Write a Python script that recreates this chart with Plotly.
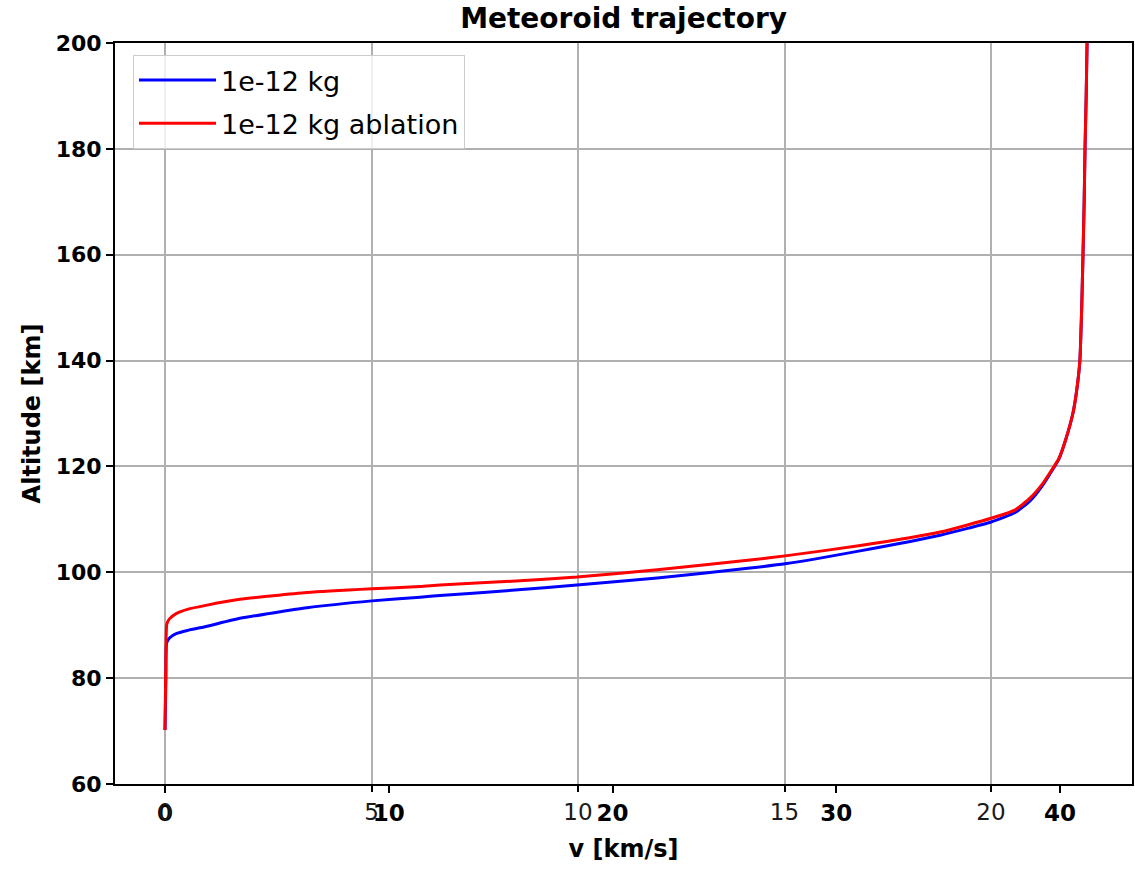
import plotly.graph_objects as go

# Data (velocity in km/s, altitude in km)
v_blue = [0.0, 0.02, 0.04, 0.07, 0.2, 0.5, 1.0, 1.88, 3.35, 6.35, 9.25, 11.4, 12.29, 15.5, 18.41, 22.0,
          26.15, 27.71, 31.0, 34.64, 36.92, 38.0, 38.66, 39.2, 39.55, 39.95, 40.25, 40.58, 40.75,
          40.89, 40.97, 41.03, 41.08, 41.12, 41.17, 41.21]
h_blue = [70.2, 75.0, 80.0, 86.6, 87.6, 88.4, 89.0, 89.8, 91.3, 93.3, 94.6, 95.3, 95.6, 96.6, 97.6, 98.9,
          100.8, 101.6, 104.0, 107.0, 109.5, 111.3, 113.5, 116.3, 118.6, 121.4, 125.0, 130.1, 134.5,
          140.1, 150.0, 160.3, 170.0, 180.4, 190.0, 200.0]

v_red = [0.0, 0.02, 0.04, 0.08, 0.2, 0.5, 1.0, 1.88, 3.35, 6.35, 9.25, 11.4, 12.29, 15.5, 18.41, 22.0,
         26.15, 27.71, 31.0, 34.64, 36.92, 38.0, 38.66, 39.2, 39.55, 39.95, 40.25, 40.58, 40.75,
         40.89, 40.97, 41.03, 41.08, 41.12, 41.17, 41.21]
h_red = [70.2, 77.0, 84.0, 90.2, 91.2, 92.2, 93.0, 93.8, 94.9, 96.2, 96.9, 97.3, 97.6, 98.3, 99.1, 100.5,
         102.3, 103.1, 105.0, 107.6, 110.2, 111.8, 114.0, 116.6, 118.8, 121.5, 125.0, 130.1, 134.5,
         140.1, 150.0, 160.3, 170.0, 180.4, 190.0, 200.0]

bold_ticks = [0, 10, 20, 30, 40]
light_ticks = [0, 5, 10, 15, 20]
y_ticks = [60, 80, 100, 120, 140, 160, 180, 200]

FONT = "DejaVu Sans"

fig = go.Figure()
fig.add_trace(go.Scatter(x=v_blue, y=h_blue, mode="lines", name="1e-12 kg",
                         line=dict(color="#0000ff", width=3, shape="spline", smoothing=0.5),
                         legendgroup="a"))
fig.add_trace(go.Scatter(x=v_red, y=h_red, mode="lines", name="1e-12 kg ablation",
                         line=dict(color="#ff0000", width=3, shape="spline", smoothing=0.5),
                         legendgroup="b"))

fig.update_layout(
    width=1135, height=869,
    margin=dict(l=115, r=3, t=43, b=85, autoexpand=False),
    paper_bgcolor="white", plot_bgcolor="white",
    font=dict(family=FONT, color="black"),
    title=dict(text="Meteoroid trajectory", x=0.5494, xanchor="center",
               y=0.979, yref="container", yanchor="middle", automargin=False,
               font=dict(family=FONT, size=28, weight="bold", color="black")),
    xaxis=dict(range=[-2.2346, 43.218], tickvals=bold_ticks, ticktext=[str(t) for t in bold_ticks],
               showgrid=False, zeroline=False, automargin=False,
               ticks="outside", ticklen=7, tickwidth=2, tickcolor="black",
               showline=True, linecolor="black", linewidth=2, mirror=True,
               tickfont=dict(family=FONT, size=23, weight="bold", color="black"),
               title=dict(text="v [km/s]", standoff=16,
                          font=dict(family=FONT, size=24, weight="bold", color="black"))),
    xaxis2=dict(range=[-1.2107, 23.414], overlaying="x", side="bottom", anchor="y",
                tickvals=light_ticks, ticktext=[str(t) for t in light_ticks], automargin=False,
                showgrid=True, gridcolor="#b0b0b0", gridwidth=1.5, zeroline=False,
                ticks="outside", ticklen=7, tickwidth=2, tickcolor="black",
                showline=False,
                tickfont=dict(family=FONT, size=23, color="#1a1a1a")),
    yaxis=dict(range=[60, 200], tickvals=y_ticks, automargin=False,
               showgrid=True, gridcolor="#b0b0b0", gridwidth=1.5, zeroline=False,
               ticks="outside", ticklen=7, tickwidth=2, tickcolor="black",
               showline=True, linecolor="black", linewidth=2, mirror=True,
               tickfont=dict(family=FONT, size=22, weight="bold", color="black"),
               title=dict(text="Altitude [km]", standoff=8,
                          font=dict(family=FONT, size=24, weight="bold", color="black"))),
    legend=dict(x=0.0177, y=0.9838, xanchor="left", yanchor="top",
                bgcolor="rgba(255,255,255,0.8)", bordercolor="#cccccc", borderwidth=1,
                itemwidth=77,
                font=dict(family=FONT, size=27, color="black"), tracegroupgap=5),
    showlegend=True,
)

# invisible trace to activate xaxis2 gridlines/ticks
fig.add_trace(go.Scatter(x=[0], y=[None], xaxis="x2", yaxis="y", mode="lines",
                         showlegend=False, hoverinfo="skip"))

fig.write_html("out.html", config={"displayModeBar": False},
               post_script="document.body.style.margin='0';document.body.style.overflow='hidden';")
